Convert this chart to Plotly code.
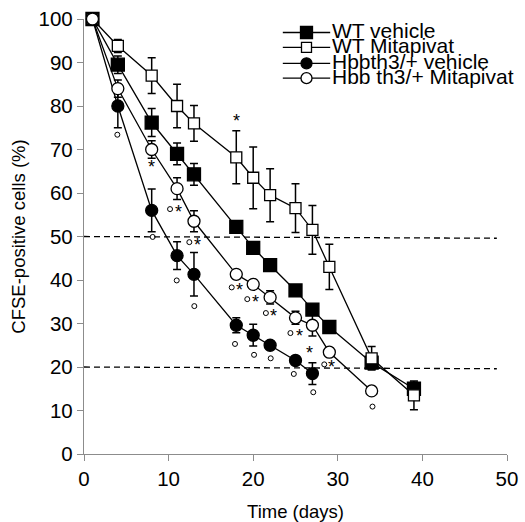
import plotly.graph_objects as go

# ---- data ----
wt_x = [1, 4, 8, 11, 13, 18, 20, 22, 25, 27, 29, 34, 39]
wt_veh_y = [100, 89.5, 76.2, 69, 64.3, 52.2, 47.4, 43.4, 37.6, 33.2, 29.2, 21, 15]
wt_veh_err = [0, 2, 3.2, 2.5, 2.5, 1, 1, 1, 1, 1, 1, 1.5, 1.5]
wt_mit_y = [100, 93.8, 87, 80, 76, 68.2, 63.5, 59.5, 56.5, 51.5, 43, 22, 13.5]
wt_mit_err = [0, 1.5, 4.1, 5, 4.1, 6.1, 7.1, 6.1, 5.6, 5.6, 5.2, 2.7, 3.3]

hbb_veh_x = [1, 4, 8, 11, 13, 18, 20, 22, 25, 27]
hbb_veh_y = [100, 80, 56, 45.6, 41.3, 29.6, 27.3, 25, 21.5, 18.5]
hbb_veh_err = [0, 5, 4.9, 3.2, 5, 1.7, 2.5, 1, 1, 2.5]

hbb_mit_x = [1, 4, 8, 11, 13, 18, 20, 22, 25, 27, 29, 34]
hbb_mit_y = [100, 84, 70, 61, 53.5, 41.3, 39, 36, 31.3, 29.6, 23.4, 14.5]
hbb_mit_err = [0, 2, 2, 2.5, 2.4, 1, 1, 1.5, 1.5, 2.5, 1, 1]

star_x = [8.0, 18.05, 11.2, 13.4, 18.4, 20.3, 22.45, 25.45, 26.7, 29.3]
star_y = [66.6, 77.2, 56.3, 48.7, 38.3, 35.6, 32.4, 27.8, 23.9, 20.6]

deg_x = [3.94, 8.12, 10.17, 12.45, 10.96, 13.04, 17.46, 19.3, 21.5, 24.4,
         17.85, 20.1, 22.07, 24.8, 27.1, 28.4, 34.1]
deg_y = [73.4, 49.9, 56.3, 48.7, 39.9, 34.0, 38.3, 35.6, 32.4, 27.8,
         25.3, 22.8, 22.0, 18.4, 14.2, 20.6, 10.9]

threshold_levels = [50, 20]

names = ["WT vehicle", "WT Mitapivat", "Hbbth3/+ vehicle", "Hbb th3/+ Mitapivat"]

FONT = "Liberation Sans, Arial"

fig = go.Figure()

def add_series(x, y, err, symbol, fill, size, name):
    fig.add_trace(go.Scatter(
        x=x, y=y, mode="lines+markers", name=name,
        line=dict(color="black", width=1.3),
        marker=dict(symbol=symbol, size=size, color=fill,
                    line=dict(color="black", width=1.3)),
        error_y=dict(type="data", array=err, visible=True, color="black",
                     thickness=1.5, width=4),
        cliponaxis=False, showlegend=False,
    ))

add_series(wt_x, wt_veh_y, wt_veh_err, "square", "black", 13, names[0])
add_series(wt_x, wt_mit_y, wt_mit_err, "square", "white", 11, names[1])
add_series(hbb_veh_x, hbb_veh_y, hbb_veh_err, "circle", "black", 12, names[2])
add_series(hbb_mit_x, hbb_mit_y, hbb_mit_err, "circle", "white", 12, names[3])

# small circle significance marks
fig.add_trace(go.Scatter(
    x=deg_x, y=deg_y, mode="markers",
    marker=dict(symbol="circle-open", size=5, color="black", line=dict(width=1)),
    showlegend=False, cliponaxis=False,
))

# asterisks
for sx, sy in zip(star_x, star_y):
    fig.add_annotation(x=sx, y=sy, text="*", showarrow=False,
                       font=dict(size=18, color="black", family=FONT),
                       xanchor="center", yanchor="middle", yshift=-3)

# dashed threshold lines
for lv in threshold_levels:
    fig.add_shape(type="line", xref="x", yref="y", x0=0, x1=48.8,
                  y0=lv, y1=lv - 0.4,
                  line=dict(color="black", width=1.3, dash="6px,4px"))

# custom legend
leg_rows = [0.969, 0.935, 0.898, 0.864]
leg_specs = [("rect", "black", 6), ("rect", "white", 5),
             ("circle", "black", 5.5), ("circle", "white", 5.5)]
for row, (shp, fill, hs), name in zip(leg_rows, leg_specs, names):
    fig.add_shape(type="line", xref="paper", yref="paper",
                  x0=0.470, x1=0.582, y0=row, y1=row,
                  line=dict(color="black", width=1.3))
    fig.add_shape(type=shp, xref="paper", yref="paper",
                  xsizemode="pixel", ysizemode="pixel",
                  xanchor=0.526, yanchor=row,
                  x0=-hs, x1=hs, y0=-hs, y1=hs,
                  fillcolor=fill, line=dict(color="black", width=1.3))
    fig.add_annotation(xref="paper", yref="paper", x=0.584, y=row,
                       text=name, showarrow=False, xanchor="left",
                       yanchor="middle", borderpad=0, yshift=2,
                       font=dict(size=21, color="black", family=FONT))

axis_common = dict(
    showline=True, linecolor="#8c8c8c", linewidth=1.3,
    ticks="outside", tickcolor="#8c8c8c", ticklen=6, tickwidth=1.3,
    showgrid=False, zeroline=False, automargin=False,
    tickfont=dict(size=20.5, color="black", family=FONT),
)

fig.update_xaxes(range=[0, 50], tickmode="array",
                 tickvals=[0, 10, 20, 30, 40, 50],
                 title=dict(text="Time (days)", standoff=16,
                            font=dict(size=18.5, color="black", family=FONT)),
                 **axis_common)
fig.update_yaxes(range=[0, 100], tickmode="array",
                 tickvals=list(range(0, 101, 10)),
                 title=dict(text="CFSE-positive cells (%)", standoff=8,
                            font=dict(size=18.5, color="black", family=FONT)),
                 **axis_common)

fig.update_layout(
    width=525, height=522,
    margin=dict(l=84, r=18, t=19, b=68),
    plot_bgcolor="white", paper_bgcolor="white",
    showlegend=False,
)

fig.write_html("out.html")
